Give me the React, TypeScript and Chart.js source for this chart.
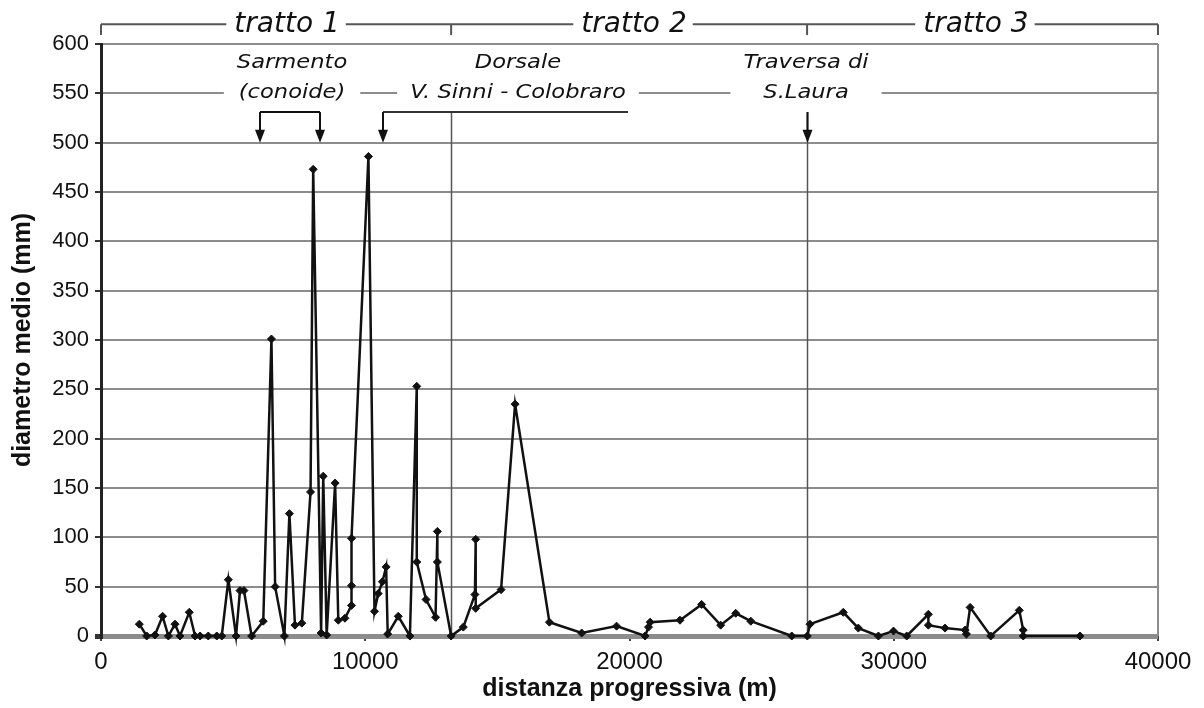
import React, { useEffect, useRef } from 'react';
import { Chart, registerables } from 'chart.js';

Chart.register(...registerables);

// ---- data (distanza progressiva in m, diametro medio in mm) ----
const distances = [
  1450, 1730, 2040, 2330, 2550, 2800, 2990, 3340, 3560, 3750, 4060, 4380, 4570, 4820, 5110,
  5260, 5410, 5700, 6140, 6450, 6590, 6940, 7130, 7340, 7600, 7930, 8030, 8330, 8410, 8540,
  8860, 8980, 9230, 9480, 9480, 9480, 10120, 10350, 10490, 10650, 10790, 10850, 11250, 11690,
  11950, 11950, 12300, 12660, 12730, 12730, 13250, 13710, 14150, 14180, 14180, 15140, 15670,
  16970, 18190, 19510, 20590, 20720, 20780, 21910, 22730, 23450, 24020, 24590, 26140, 26730,
  26830, 28090, 28660, 29420, 29990, 30490, 31310, 31310, 31940, 32700, 32750, 32890, 33670,
  34750, 34900, 34900, 37050,
];
const diameters = [
  12, 0, 1, 20, 0, 12, 0, 24, 0, 0, 0, 0, 0, 57, 0,
  46, 46, 0, 15, 301, 50, 0, 124, 11, 13, 146, 473, 3, 162, 1,
  155, 16, 18, 31, 51, 99, 486, 25, 43, 55, 70, 2, 20, 0,
  253, 75, 37, 19, 106, 75, 0, 9, 42, 98, 28, 47, 235,
  14, 3, 10, 0, 9, 14, 16, 32, 11, 23, 15, 0, 0,
  12, 24, 8, 0, 5, 0, 22, 11, 8, 6, 2, 29, 0,
  26, 6, 0, 0,
];

const xMin = 0;
const xMax = 40000;
const xStep = 10000;
const yMin = 0;
const yMax = 600;
const yStep = 50;

const xTitle = 'distanza progressiva (m)';
const yTitle = 'diametro medio (mm)';

// section bracket ("tratto") annotations
const sectionLabels = ['tratto 1', 'tratto 2', 'tratto 3'];
const sectionCenters = [7040, 20170, 33110];
const sectionBounds = [0, 13250, 26720, 40000];

// site annotations
const siteLines = [
  ['Sarmento', '(conoide)'],
  ['Dorsale', 'V. Sinni - Colobraro'],
  ['Traversa di', 'S.Laura'],
];
const siteCenters = [7230, 15780, 26680];
const sarmentoArrows = [6017, 8288];
const dorsaleArrow = 10672;
const dorsaleLineEnd = 19944;
const traversaArrow = 26720;

const SANS = "'Liberation Sans', Arial, Helvetica, sans-serif";
const ANNOT = "'DejaVu Sans', Verdana, sans-serif";

function drawText(
  ctx: CanvasRenderingContext2D,
  text: string,
  cx: number,
  cy: number,
  font: string,
  sx: number
) {
  ctx.save();
  ctx.font = font;
  ctx.textAlign = 'center';
  ctx.textBaseline = 'middle';
  ctx.translate(cx, cy);
  ctx.scale(sx, 1);
  ctx.fillStyle = '#111';
  ctx.fillText(text, 0, 0);
  ctx.restore();
}

function textWidth(ctx: CanvasRenderingContext2D, text: string, font: string, sx: number) {
  ctx.save();
  ctx.font = font;
  const w = ctx.measureText(text).width * sx;
  ctx.restore();
  return w;
}

function arrowDown(ctx: CanvasRenderingContext2D, x: number, y0: number, y1: number) {
  ctx.beginPath();
  ctx.moveTo(x, y0);
  ctx.lineTo(x, y1 - 10);
  ctx.stroke();
  ctx.beginPath();
  ctx.moveTo(x - 5, y1 - 13);
  ctx.lineTo(x + 5, y1 - 13);
  ctx.lineTo(x, y1);
  ctx.closePath();
  ctx.fill();
}

const annotationPlugin = {
  id: 'annotations',
  beforeDatasetsDraw(chart: any) {
    const { ctx, scales } = chart;
    const x = scales.x;
    const y = scales.y;
    const px = (v: number) => x.getPixelForValue(v);
    const py = (v: number) => y.getPixelForValue(v);
    ctx.save();

    // section divider lines
    ctx.strokeStyle = '#555';
    ctx.lineWidth = 1.5;
    [sectionBounds[1], sectionBounds[2]].forEach((d) => {
      ctx.beginPath();
      ctx.moveTo(Math.round(px(d)) + 0.5, py(531));
      ctx.lineTo(Math.round(px(d)) + 0.5, py(0));
      ctx.stroke();
    });

    // tratto bracket
    const by = py(620);
    const byTick = py(609);
    ctx.strokeStyle = '#555';
    ctx.lineWidth = 2;
    ctx.beginPath();
    ctx.moveTo(px(sectionBounds[0]), by);
    ctx.lineTo(px(sectionBounds[3]), by);
    ctx.stroke();
    sectionBounds.forEach((b) => {
      ctx.beginPath();
      ctx.moveTo(px(b), by);
      ctx.lineTo(px(b), byTick);
      ctx.stroke();
    });
    const tFont = `italic 28px ${ANNOT}`;
    sectionLabels.forEach((t, i) => {
      const w = textWidth(ctx, t, tFont, 1);
      const cx = px(sectionCenters[i]);
      ctx.fillStyle = '#fff';
      ctx.fillRect(cx - w / 2 - 8, by - 16, w + 14, 30);
      drawText(ctx, t, cx, by, tFont, 1);
    });

    // site labels with white boxes
    const sFont = `italic 20px ${ANNOT}`;
    const sx = 1.13;
    const row1 = py(580.5);
    const row2 = py(551);
    siteLines.forEach((lines, i) => {
      const cx = px(siteCenters[i]);
      const w = Math.max(...lines.map((l) => textWidth(ctx, l, sFont, sx)));
      ctx.fillStyle = '#fff';
      ctx.fillRect(cx - w / 2 - 13, row1 - 12, w + 26, row2 - row1 + 24);
      drawText(ctx, lines[0], cx, row1, sFont, sx);
      drawText(ctx, lines[1], cx, row2, sFont, sx);
    });

    // arrows
    ctx.strokeStyle = '#111';
    ctx.fillStyle = '#111';
    ctx.lineWidth = 2;
    const ay = py(531);
    const tip = py(500);
    ctx.beginPath();
    ctx.moveTo(px(sarmentoArrows[0]), ay);
    ctx.lineTo(px(sarmentoArrows[1]), ay);
    ctx.stroke();
    sarmentoArrows.forEach((a) => arrowDown(ctx, px(a), ay, tip));

    ctx.strokeStyle = '#333';
    ctx.beginPath();
    ctx.moveTo(px(dorsaleArrow), ay);
    ctx.lineTo(px(dorsaleLineEnd), ay);
    ctx.stroke();
    ctx.strokeStyle = '#111';
    arrowDown(ctx, px(dorsaleArrow), ay, tip);
    arrowDown(ctx, Math.round(px(traversaArrow)) + 0.5, ay, tip);

    ctx.restore();
  },
};

export default function App() {
  const canvasRef = useRef<HTMLCanvasElement | null>(null);

  useEffect(() => {
    if (!canvasRef.current) return;
    const points = distances.map((d, i) => ({ x: d, y: diameters[i] }));
    const chart = new Chart(canvasRef.current, {
      type: 'scatter',
      data: {
        datasets: [
          {
            data: points,
            showLine: true,
            borderColor: '#111',
            borderWidth: 2.5,
            pointStyle: 'rectRot',
            pointRadius: 4,
            pointBackgroundColor: '#111',
            pointBorderColor: '#111',
            pointBorderWidth: 1,
            tension: 0,
            clip: false,
          } as any,
        ],
      },
      options: {
        animation: false,
        responsive: true,
        maintainAspectRatio: false,
        layout: { padding: { top: 44, right: 46, bottom: 0, left: 0 } },
        plugins: {
          legend: { display: false },
          tooltip: { enabled: false },
        },
        scales: {
          x: {
            type: 'linear',
            min: xMin,
            max: xMax,
            ticks: {
              stepSize: xStep,
              color: '#111',
              font: { family: SANS, size: 24 },
              padding: 7,
              maxRotation: 0,
              callback: (v: any) => String(v),
            },
            grid: {
              color: (c: any) =>
                c.tick && c.tick.value === xMax ? '#8c8c8c' : 'rgba(0,0,0,0)',
              lineWidth: 2,
              tickColor: '#444',
              tickLength: 5,
            },
            border: { display: false },
            title: {
              display: true,
              text: xTitle,
              color: '#111',
              font: { family: SANS, size: 25, weight: 'bold' },
              padding: { top: 0, bottom: 4 },
            },
            afterFit: (s: any) => {
              s.height = 72;
            },
          },
          y: {
            type: 'linear',
            min: yMin,
            max: yMax,
            ticks: {
              stepSize: yStep,
              color: '#111',
              font: { family: SANS, size: 22 },
              padding: 6,
              callback: (v: any) => String(v),
            },
            grid: {
              color: '#8c8c8c',
              lineWidth: (c: any) => (c.tick && c.tick.value === 0 ? 5 : 2),
              tickColor: '#333',
              tickLength: 6,
            },
            border: { display: true, color: '#222', width: 3 },
            title: {
              display: true,
              text: yTitle,
              color: '#111',
              font: { family: SANS, size: 25, weight: 'bold' },
              padding: { top: 8, bottom: 0 },
            },
            afterFit: (s: any) => {
              s.width = 101;
            },
          },
        },
      },
      plugins: [annotationPlugin],
    });
    return () => chart.destroy();
  }, []);

  return (
    <div style={{ position: 'fixed', left: 0, top: 0, width: 1204, height: 708, background: '#fff' }}>
      <canvas ref={canvasRef} />
    </div>
  );
}
